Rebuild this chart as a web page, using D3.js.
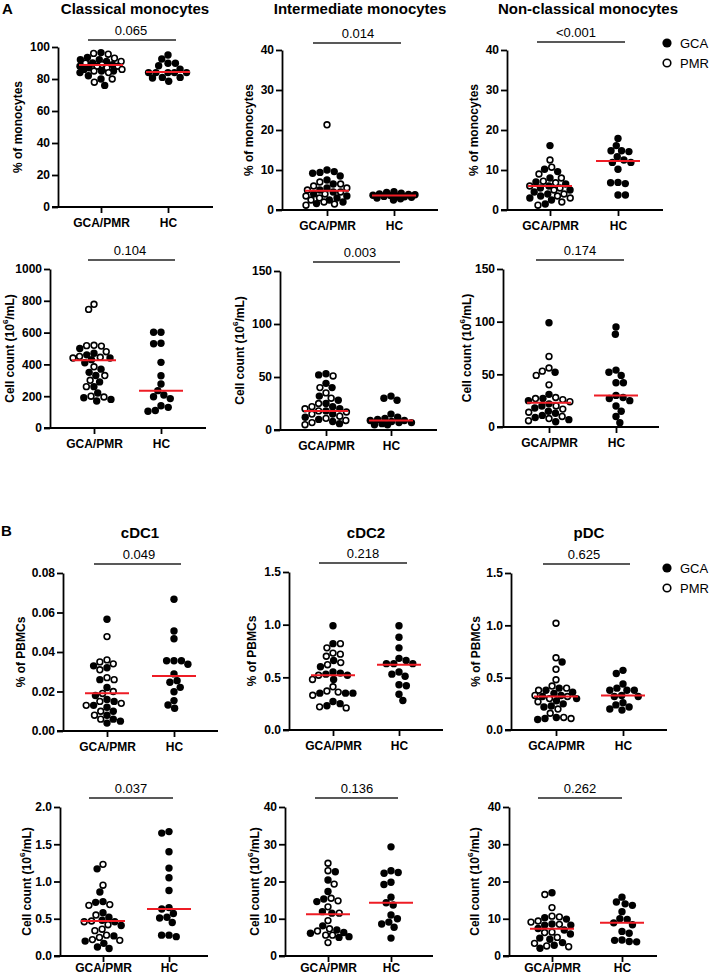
<!DOCTYPE html>
<html>
<head>
<meta charset="utf-8">
<script src="https://cdnjs.cloudflare.com/ajax/libs/d3/7.8.5/d3.min.js"></script>
<style>
  body { margin: 0; background: #fff; }
  svg { font-family: "Liberation Sans", Arial, sans-serif; }
</style>
</head>
<body>
<div id="drawingfield"></div>
<script>
// group names on the x axis and legend labels
var groups = ["GCA/PMR", "HC"];
var legendLabels = ["GCA", "PMR"];

// ---- panel A, row 1: % of monocytes ----
var classicalPctGCA = [96.5, 93.5, 92, 92, 91, 90, 89, 88, 87, 86, 85, 85, 84, 82, 80, 76];
var classicalPctPMR = [96, 95.5, 93, 91, 90, 89, 88, 88, 87, 86, 85, 84, 80, 78];
var classicalPctHC = [95, 92.5, 89.8, 89.8, 88.3, 86.2, 84, 84, 84, 84, 84, 81, 81, 80.6, 78.6];
var classicalPctMedian = [88.8, 84.4];

var intermPctGCA = [10, 9.6, 9.4, 9.2, 8.5, 7.5, 6.5, 5.5, 5, 4.5, 4, 3.5, 3, 2.5, 2, 1.6];
var intermPctPMR = [21.3, 7, 6.5, 6, 5.5, 5, 4.5, 4, 3.5, 3, 2.5, 2, 1.5, 1.2];
var intermPctHC = [4.6, 4.4, 4.2, 4, 3.9, 3.8, 3.7, 3.6, 3.5, 3.4, 3.3, 3.2, 3, 2.8, 2.5];
var intermPctMedian = [4.8, 3.6];

var nonclassPctGCA = [16.1, 10.2, 9.6, 8, 7, 6.5, 6, 5.5, 5, 4.5, 4, 3.5, 3, 2.5, 1.5];
var nonclassPctPMR = [12.5, 10.7, 9, 8, 7.2, 6.8, 6, 5.5, 5, 4, 3.5, 3, 2, 1.2];
var nonclassPctHC = [17.9, 16.1, 14.8, 14.8, 14.6, 13.3, 12.5, 11.9, 11.9, 10.2, 6.9, 6.8, 6.6, 3.75, 3.75];
var nonclassPctMedian = [6.0, 12.25];

// ---- panel A, row 2: cell counts ----
var classicalCntGCA = [500, 470, 460, 440, 430, 410, 370, 350, 330, 290, 260, 220, 190, 180, 170];
var classicalCntPMR = [778, 746, 520, 518, 515, 480, 450, 445, 440, 385, 330, 300, 260, 200, 195];
var classicalCntHC = [602, 602, 533, 530, 413, 329, 277, 235, 208, 197, 185, 140, 130, 110, 105];
var classicalCntMedian = [426, 235];

var intermCntGCA = [53, 52, 44, 40, 32, 28, 25, 22, 20, 18, 15, 12, 10, 8, 6];
var intermCntPMR = [51, 40, 35, 30, 25, 22, 20, 18, 17, 15, 13, 11, 9, 7, 5];
var intermCntHC = [32, 30, 28, 15, 12, 11, 10, 9, 9, 8, 7, 7, 6, 5, 5];
var intermCntMedian = [18, 9];

var nonclassCntGCA = [99, 52, 31, 27, 25, 22, 20, 18, 15, 13, 11, 9, 7, 5];
var nonclassCntPMR = [67, 56, 53, 49, 40, 28, 27, 26, 24, 20, 17, 14, 10, 8, 6];
var nonclassCntHC = [95, 88, 54, 52, 49, 42, 42, 30, 28, 27, 25, 20, 15, 10, 4];
var nonclassCntMedian = [23, 30];

// ---- panel B, row 3: % of PBMCs ----
var cdc1PctGCA = [0.0566, 0.033, 0.032, 0.026, 0.022, 0.018, 0.016, 0.015, 0.013, 0.012, 0.010, 0.008, 0.006, 0.005, 0.004];
var cdc1PctPMR = [0.0478, 0.036, 0.035, 0.034, 0.031, 0.027, 0.026, 0.020, 0.019, 0.015, 0.014, 0.013, 0.010, 0.008, 0.006];
var cdc1PctHC = [0.0667, 0.0506, 0.0467, 0.0356, 0.0356, 0.0356, 0.0338, 0.0289, 0.0255, 0.0247, 0.0221, 0.0199, 0.0154, 0.0132, 0.0115];
var cdc1PctMedian = [0.0191, 0.0278];

var cdc2PctGCA = [0.99, 0.82, 0.66, 0.60, 0.55, 0.54, 0.53, 0.52, 0.48, 0.35, 0.35, 0.35, 0.27, 0.25, 0.23];
var cdc2PctPMR = [0.82, 0.78, 0.73, 0.72, 0.70, 0.64, 0.62, 0.52, 0.48, 0.41, 0.37, 0.36, 0.33, 0.22, 0.21];
var cdc2PctHC = [0.99, 0.88, 0.78, 0.68, 0.66, 0.63, 0.63, 0.63, 0.55, 0.53, 0.51, 0.43, 0.42, 0.34, 0.28];
var cdc2PctMedian = [0.52, 0.62];

var pdcPctGCA = [0.65, 0.40, 0.38, 0.36, 0.35, 0.33, 0.32, 0.30, 0.28, 0.25, 0.23, 0.22, 0.12, 0.11, 0.10];
var pdcPctPMR = [1.02, 0.69, 0.58, 0.48, 0.42, 0.40, 0.38, 0.33, 0.32, 0.30, 0.27, 0.20, 0.16, 0.12, 0.11];
var pdcPctHC = [0.57, 0.54, 0.44, 0.40, 0.38, 0.38, 0.38, 0.33, 0.32, 0.32, 0.26, 0.24, 0.22, 0.20, 0.19];
var pdcPctMedian = [0.32, 0.33];

// ---- panel B, row 4: cell counts ----
var cdc1CntGCA = [1.17, 0.86, 0.73, 0.72, 0.58, 0.52, 0.48, 0.46, 0.41, 0.27, 0.20, 0.17, 0.12, 0.10];
var cdc1CntPMR = [1.23, 0.95, 0.69, 0.68, 0.55, 0.47, 0.46, 0.42, 0.36, 0.34, 0.28, 0.25, 0.22, 0.21];
var cdc1CntHC = [1.67, 1.65, 1.40, 1.18, 1.05, 0.88, 0.65, 0.63, 0.57, 0.52, 0.51, 0.45, 0.28, 0.28, 0.26];
var cdc1CntMedian = [0.47, 0.63];

var cdc2CntGCA = [22.6, 20.4, 17.3, 15.3, 14.6, 11.9, 11.5, 8.1, 7, 6.3, 6.1, 5.2, 5];
var cdc2CntPMR = [24.9, 22.9, 19.3, 15.5, 14.8, 13.2, 11.5, 9.5, 7.3, 6.7, 5.6, 5.6, 3.6];
var cdc2CntHC = [29.3, 22.9, 22.4, 22.2, 19.8, 19.2, 15.8, 14.3, 13.7, 11, 10, 9.1, 8.6, 7.7, 4.8];
var cdc2CntMedian = [11.2, 14.3];

var pdcCntGCA = [17, 10.3, 9.9, 8.6, 8.3, 8.3, 7.4, 7.0, 5.9, 4.8, 4.5, 3.6, 2.9, 2.1];
var pdcCntPMR = [16.5, 13, 10.7, 10.5, 9.4, 9.1, 8.5, 6.4, 6.3, 5, 3.4, 2.7, 2.5];
var pdcCntHC = [15.8, 14.5, 14, 13.6, 11.9, 10, 9.8, 8.9, 8.4, 6.6, 6.1, 4.3, 4.2, 3.9, 3.8];
var pdcCntMedian = [7.3, 8.9];

var titles = ["Classical monocytes", "Intermediate monocytes", "Non-classical monocytes", "cDC1", "cDC2", "pDC"];
var pValues = ["0.065", "0.014", "<0.001", "0.104", "0.003", "0.174",
               "0.049", "0.218", "0.625", "0.037", "0.136", "0.262"];

// panel layout: ax = y axis x, y0 = pixel of zero, yTop = pixel of max,
// c = group centres, xEnd = end of x axis, tX = title centre, pT = p text centre
var panels = [
  {gca: classicalPctGCA, pmr: classicalPctPMR, hc: classicalPctHC, med: classicalPctMedian, max: 100, step: 20, fmt: "d",
   ylab: "% of monocytes", title: titles[0], tX: 135, ax: 58, y0: 207, yTop: 47, c: [101, 168], xEnd: 213, labX: 18, pY: 40, pX: [88, 176], pT: 131},
  {gca: intermPctGCA, pmr: intermPctPMR, hc: intermPctHC, med: intermPctMedian, max: 40, step: 10, fmt: "d",
   ylab: "% of monocytes", title: titles[1], tX: 360, ax: 282, y0: 210, yTop: 50, c: [327, 394], xEnd: 438, labX: 249, pY: 43, pX: [313, 401], pT: 358},
  {gca: nonclassPctGCA, pmr: nonclassPctPMR, hc: nonclassPctHC, med: nonclassPctMedian, max: 40, step: 10, fmt: "d",
   ylab: "% of monocytes", title: titles[2], tX: 588, ax: 507, y0: 210, yTop: 50, c: [550, 618], xEnd: 663, labX: 474, pY: 42, pX: [537, 625], pT: 576, legend: 43},
  {gca: classicalCntGCA, pmr: classicalCntPMR, hc: classicalCntHC, med: classicalCntMedian, max: 1000, step: 200, fmt: "d",
   ylab: "count", ax: 50, y0: 428, yTop: 269, c: [94, 161], xEnd: 206, labX: 10, pY: 260, pX: [88, 175], pT: 130},
  {gca: intermCntGCA, pmr: intermCntPMR, hc: intermCntHC, med: intermCntMedian, max: 150, step: 50, fmt: "d",
   ylab: "count", ax: 280, y0: 430, yTop: 271, c: [326, 391], xEnd: 437, labX: 240, pY: 262, pX: [313, 400], pT: 360},
  {gca: nonclassCntGCA, pmr: nonclassCntPMR, hc: nonclassCntHC, med: nonclassCntMedian, max: 150, step: 50, fmt: "d",
   ylab: "count", ax: 503, y0: 427, yTop: 269, c: [549, 616], xEnd: 659, labX: 467, pY: 260, pX: [536, 624], pT: 580},
  {gca: cdc1PctGCA, pmr: cdc1PctPMR, hc: cdc1PctHC, med: cdc1PctMedian, max: 0.08, step: 0.02, fmt: ".2f",
   ylab: "% of PBMCs", title: titles[3], tX: 140, ax: 63, y0: 731, yTop: 573, c: [107, 174], xEnd: 218, labX: 21, pY: 564, pX: [94, 181], pT: 139},
  {gca: cdc2PctGCA, pmr: cdc2PctPMR, hc: cdc2PctHC, med: cdc2PctMedian, max: 1.5, step: 0.5, fmt: ".1f",
   ylab: "% of PBMCs", title: titles[4], tX: 366, ax: 289, y0: 730, yTop: 572, c: [333, 399], xEnd: 443, labX: 252, pY: 563, pX: [319, 407], pT: 363},
  {gca: pdcPctGCA, pmr: pdcPctPMR, hc: pdcPctHC, med: pdcPctMedian, max: 1.5, step: 0.5, fmt: ".1f",
   ylab: "% of PBMCs", title: titles[5], tX: 589, ax: 511, y0: 730, yTop: 573, c: [556, 623], xEnd: 667, labX: 476, pY: 564, pX: [543, 630], pT: 584, legend: 568},
  {gca: cdc1CntGCA, pmr: cdc1CntPMR, hc: cdc1CntHC, med: cdc1CntMedian, max: 2.0, step: 0.5, fmt: ".1f",
   ylab: "count", ax: 60, y0: 956, yTop: 807, c: [103, 169], xEnd: 208, labX: 27, pY: 798, pX: [89, 173], pT: 131},
  {gca: cdc2CntGCA, pmr: cdc2CntPMR, hc: cdc2CntHC, med: cdc2CntMedian, max: 40, step: 10, fmt: "d",
   ylab: "count", ax: 285, y0: 956, yTop: 807, c: [328, 391], xEnd: 433, labX: 255, pY: 798, pX: [315, 398], pT: 357},
  {gca: pdcCntGCA, pmr: pdcCntPMR, hc: pdcCntHC, med: pdcCntMedian, max: 40, step: 10, fmt: "d",
   ylab: "count", ax: 509, y0: 956, yTop: 807, c: [552, 622], xEnd: 657, labX: 475, pY: 798, pX: [538, 622], pT: 580}
];

var width = 709, height = 975;
var r = 3.7;          // dot radius
var sep = 3.7;        // half spacing used by the swarm
var maxW = 21;        // widest a swarm may get either side

var svg = d3.select("#drawingfield").append("svg")
  .attr("width", width)
  .attr("height", height);

// beeswarm kept inside +-maxW; when crowded, dots overlap where they overlap least
function swarm(ys) {
  var placed = [];
  var out = new Array(ys.length);
  var order = d3.range(ys.length).sort(function(a, b) { return ys[a] - ys[b]; });
  order.forEach(function(i, k) {
    var py = ys[i];
    var near = placed.filter(function(p) { return Math.abs(p.y - py) < 2 * sep; });
    var blocked = near.map(function(p) {
      var dy = Math.abs(p.y - py);
      var dx = Math.sqrt(4 * sep * sep - dy * dy);
      return [p.x - dx, p.x + dx];
    });
    var cands = [0];
    blocked.forEach(function(b) { cands.push(b[0], b[1]); });
    cands.sort(function(a, b) {
      var d = Math.abs(a) - Math.abs(b);
      if (Math.abs(d) > 1e-6) return d;
      return (k % 2 ? a - b : b - a);
    });
    var x = cands.find(function(c) {
      return Math.abs(c) <= maxW + 1e-6 &&
        blocked.every(function(b) { return c <= b[0] + 1e-6 || c >= b[1] - 1e-6; });
    });
    if (x === undefined) {
      var best = -1;
      for (var c = -maxW; c <= maxW; c += 0.5) {
        var md = d3.min(near, function(p) { return Math.hypot(p.x - c, p.y - py); });
        if (md > best + 1e-6 || (Math.abs(md - best) < 1e-6 && Math.abs(c) < Math.abs(x))) { best = md; x = c; }
      }
    }
    placed.push({x: x, y: py});
    out[i] = x;
  });
  return out;
}

panels.forEach(function(p, idx) {
  var g = svg.append("g");

  var y = d3.scaleLinear().domain([0, p.max]).range([p.y0, p.yTop]);
  var x = d3.scalePoint().domain(groups).range(p.c);

  // y axis
  var yAxis = d3.axisLeft(y)
    .tickValues(d3.range(0, p.max + p.step / 2, p.step))
    .tickFormat(d3.format(p.fmt))
    .tickSize(6).tickSizeOuter(0).tickPadding(2);
  var ya = g.append("g").attr("transform", "translate(" + p.ax + ",0)").call(yAxis);
  ya.select(".domain").attr("stroke-width", 1.8);
  ya.selectAll(".tick line").attr("stroke-width", 1.8);
  ya.selectAll("text").attr("font-size", 12).attr("font-weight", "bold")
    .attr("font-family", "Liberation Sans, Arial, sans-serif").attr("fill", "#000");

  // x axis (bottom row sits tight against the page edge)
  var xAxis = d3.axisBottom(x).tickSize(6).tickSizeOuter(0).tickPadding(idx > 8 ? 1 : 5);
  var xa = g.append("g").attr("transform", "translate(0," + p.y0 + ")").call(xAxis);
  xa.select(".domain").remove();
  xa.append("line").attr("x1", p.ax - 6).attr("x2", p.xEnd)
    .attr("stroke", "#000").attr("stroke-width", 1.8);
  xa.selectAll(".tick line").attr("stroke-width", 1.8);
  xa.selectAll("text").attr("font-size", 12).attr("font-weight", "bold")
    .attr("font-family", "Liberation Sans, Arial, sans-serif").attr("fill", "#000");

  // y label
  var lab = g.append("text")
    .attr("transform", "translate(" + p.labX + "," + ((p.y0 + p.yTop) / 2) + ") rotate(-90)")
    .attr("text-anchor", "middle")
    .attr("dominant-baseline", "central")
    .attr("font-size", 12).attr("font-weight", "bold");
  if (p.ylab == "count") {
    lab.append("tspan").text("Cell count (10");
    lab.append("tspan").attr("font-size", 8).attr("dy", -5).text("6");
    lab.append("tspan").attr("dy", 5).text("/mL)");
  } else {
    lab.text(p.ylab);
  }

  // title
  if (p.title) {
    g.append("text")
      .attr("x", p.tX)
      .attr("y", idx < 3 ? 14 : 538)
      .attr("text-anchor", "middle")
      .attr("font-size", 15).attr("font-weight", "bold")
      .text(p.title);
  }

  // p value bar
  g.append("line").attr("x1", p.pX[0]).attr("x2", p.pX[1])
    .attr("y1", p.pY).attr("y2", p.pY)
    .attr("stroke", "#222").attr("stroke-width", 1.5);
  g.append("text")
    .attr("x", p.pT)
    .attr("y", p.pY - 5)
    .attr("text-anchor", "middle")
    .attr("font-size", 13)
    .text(pValues[idx]);

  // points: GCA/PMR group mixes filled and open dots
  var pts1 = [];
  p.gca.forEach(function(v) { pts1.push({v: v, open: false, grp: groups[0]}); });
  p.pmr.forEach(function(v) { pts1.push({v: v, open: true, grp: groups[0]}); });
  pts1.sort(function(a, b) { return b.v - a.v; });
  var pts2 = p.hc.map(function(v) { return {v: v, open: false, grp: groups[1]}; });

  [pts1, pts2].forEach(function(pts) {
    var offs = swarm(pts.map(function(d) { return y(d.v); }));
    pts.forEach(function(d, i) { d.dx = offs[i]; });
    g.selectAll(null).data(pts).enter().append("circle")
      .attr("cx", function(d) { return x(d.grp) + d.dx; })
      .attr("cy", function(d) { return y(d.v); })
      .attr("r", function(d) { return d.open ? r - 0.8 : r; })
      .attr("fill", function(d) { return d.open ? "#fff" : "#000"; })
      .attr("stroke", "#000")
      .attr("stroke-width", function(d) { return d.open ? 1.6 : 0; });
  });

  // red median lines
  g.selectAll(null).data(p.med).enter().append("line")
    .attr("x1", function(d, i) { return x(groups[i]) - 22; })
    .attr("x2", function(d, i) { return x(groups[i]) + 22; })
    .attr("y1", function(d) { return y(d); })
    .attr("y2", function(d) { return y(d); })
    .attr("stroke", "#ee1c25").attr("stroke-width", 2);

  // legend
  if (p.legend) {
    legendLabels.forEach(function(l, i) {
      var ly = p.legend + i * 20;
      g.append("circle").attr("cx", 667).attr("cy", ly)
        .attr("r", i ? 3.8 : 4.6)
        .attr("fill", i ? "#fff" : "#000")
        .attr("stroke", "#000").attr("stroke-width", i ? 1.6 : 0);
      g.append("text").attr("x", 680).attr("y", ly)
        .attr("dominant-baseline", "central")
        .attr("font-size", 13).text(l);
    });
  }
});

// panel letters
svg.append("text").attr("x", 2).attr("y", 14).attr("font-size", 15).attr("font-weight", "bold").text("A");
svg.append("text").attr("x", 1).attr("y", 536).attr("font-size", 15).attr("font-weight", "bold").text("B");
</script>
</body>
</html>
